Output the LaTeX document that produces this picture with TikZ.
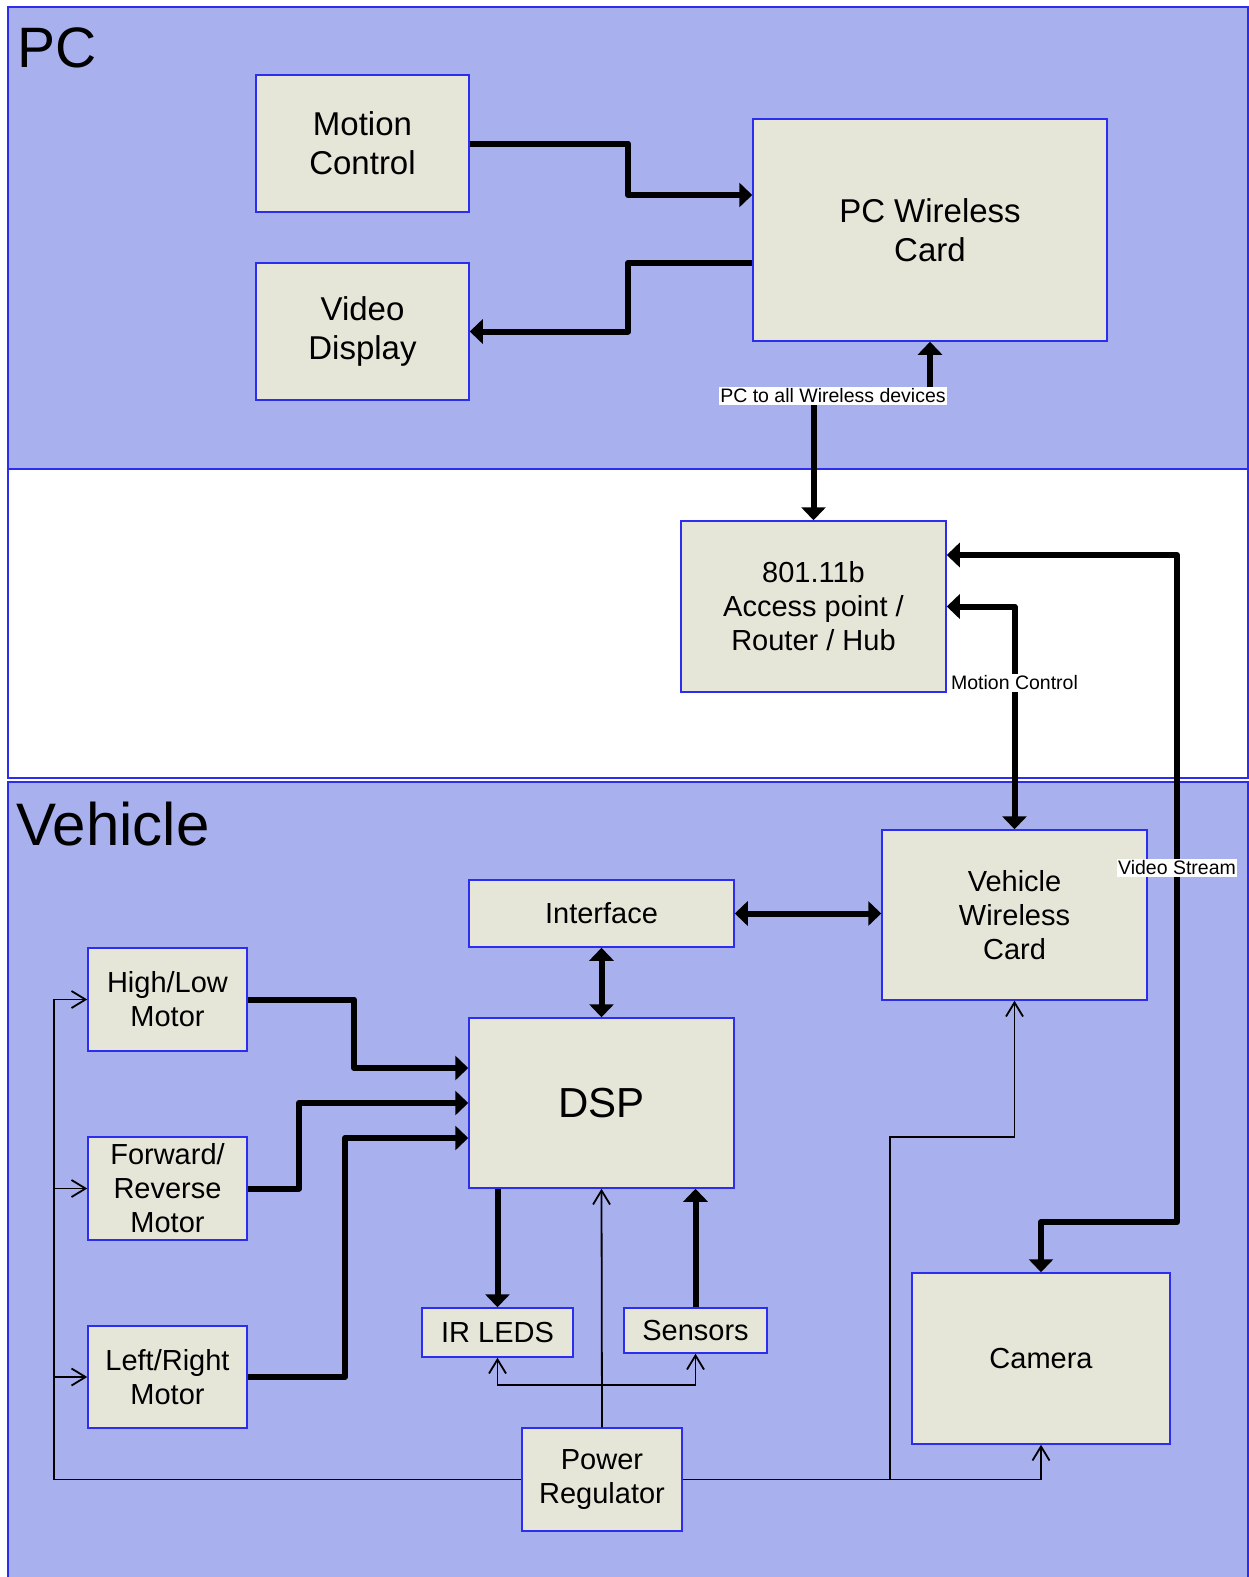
\documentclass[tikz,border=0pt]{standalone}
\usepackage{fontspec}
\setmainfont{Liberation Sans}
\usetikzlibrary{arrows.meta}

\definecolor{panelblue}{RGB}{168,176,238}
\definecolor{boxfill}{RGB}{230,230,216}
\definecolor{edgeblue}{RGB}{45,45,240}

\begin{document}
\begin{tikzpicture}[x=1pt,y=-1pt,
  panel/.style={draw=edgeblue, line width=1.5pt},
  unit/.style={draw=edgeblue, fill=boxfill, line width=1.5pt, inner sep=0pt, align=center},
  pcunit/.style={unit, font=\fontsize{33}{39}\selectfont},
  vunit/.style={unit, font=\fontsize{29}{34}\selectfont},
  bus/.style={line width=6pt, line join=round, >={Triangle[width=24pt,length=13pt]}},
  feed/.style={line width=1.8pt, >={Straight Barb[width=17pt,length=14pt]}},
  tag/.style={fill=white, inner sep=1.5pt, font=\fontsize{19.5}{22}\selectfont},
  title/.style={anchor=base west, inner sep=0pt, font=\fontsize{57}{60}\selectfont}]
\useasboundingbox[fill=white] (0,0) rectangle (1249,1577);

% the three bands
\filldraw[panel, fill=panelblue] (8,7) rectangle (1248,469);
\filldraw[panel, fill=white] (8,469) rectangle (1248,778);
\filldraw[panel, fill=panelblue] (8,782) rectangle (1248,1582);
\node[title] (pctitle) at (17,67) {PC};
\node[title, font=\fontsize{60}{64}\selectfont] (vtitle) at (16,845) {Vehicle};

% PC side
\node[pcunit, minimum width=213pt, minimum height=137pt] (mc) at (362.5,143.5) {Motion\\Control};
\node[pcunit, minimum width=213pt, minimum height=137pt] (vd) at (362.5,331.5) {Video\\Display};
\node[pcunit, minimum width=354pt, minimum height=222pt] (pcw) at (930,230) {PC Wireless\\Card};

% network
\node[vunit, minimum width=265pt, minimum height=171pt] (ap) at (813.5,606.5) {801.11b\\Access point /\\Router / Hub};

% vehicle side
\node[vunit, minimum width=265pt, minimum height=170pt] (vwc) at (1014.5,915) {Vehicle\\Wireless\\Card};
\node[vunit, minimum width=265pt, minimum height=67pt] (intf) at (601.5,913.5) {Interface};
\node[unit, minimum width=265pt, minimum height=170pt, font=\fontsize{42}{48}\selectfont] (dsp) at (601.5,1103) {DSP};
\node[vunit, minimum width=159pt, minimum height=103pt] (hl) at (167.5,999.5) {High/Low\\Motor};
\node[vunit, minimum width=159pt, minimum height=103pt] (fr) at (167.5,1188.5) {Forward/\\Reverse\\Motor};
\node[vunit, minimum width=159pt, minimum height=102pt] (lr) at (167.5,1377) {Left/Right\\Motor};
\node[vunit, minimum width=151pt, minimum height=49pt] (ir) at (497.5,1332.5) {IR LEDS};
\node[vunit, minimum width=143pt, minimum height=45pt] (sens) at (695.5,1330.5) {Sensors};
\node[vunit, minimum width=160pt, minimum height=103pt] (pwr) at (602,1479.5) {Power\\Regulator};
\node[vunit, minimum width=258pt, minimum height=171pt] (cam) at (1041,1358.5) {Camera};

% data paths
\draw[bus,->] (mc.east) -| (628,169) |- (pcw.west |- 0,195);
\draw[bus,->] (pcw.west |- 0,263) -| (628,300) |- (vd.east);
\node[tag] (lpc) at (833,396) {PC to all Wireless devices};
\draw[bus,->] (lpc.north -| pcw.south) -- (pcw.south);
\draw[bus,->] (lpc.south -| ap.north) -- (ap.north);
\draw[bus,<->] (ap.east) -| (vwc.north);
\node[tag] (lmc) at (1014.5,683) {Motion Control};
\draw[bus,<->] (ap.east |- 0,555) -| (1177,1222) -| (cam.north);
\node[tag] (lvs) at (1177,868) {Video Stream};
\draw[bus,<->] (intf.east) -- (intf.east -| vwc.west);
\draw[bus,<->] (intf.south) -- (dsp.north);
\draw[bus,->] (hl.east) -| (354,1030) |- (dsp.west |- 0,1068);
\draw[bus,->] (fr.east) -| (299,1150) |- (dsp.west);
\draw[bus,->] (lr.east) -| (345,1250) |- (dsp.west |- 0,1138);
\draw[bus,->] (dsp.south -| ir.north) -- (ir.north);
\draw[bus,->] (sens.north) -- (sens.north |- dsp.south);

% power
\coordinate (pj) at (pwr.north |- 0,1385);
\draw[feed,->] (pwr.north) -- (dsp.south);
\draw[feed,->] (pj) -| (ir.south);
\draw[feed,->] (pj) -| (sens.south);
\coordinate (lb) at (54,1479.5);
\draw[feed,->] (pwr.west) -| (lb |- hl.west) -- (hl.west);
\draw[feed,->] (lb |- fr.west) -- (fr.west);
\draw[feed,->] (lb |- lr.west) -- (lr.west);
\draw[feed,->] (pwr.east) -| (cam.south);
\draw[feed,->] (pwr.east -| 890,0) |- (vwc.south |- 0,1137) -- (vwc.south);
\end{tikzpicture}
\end{document}
